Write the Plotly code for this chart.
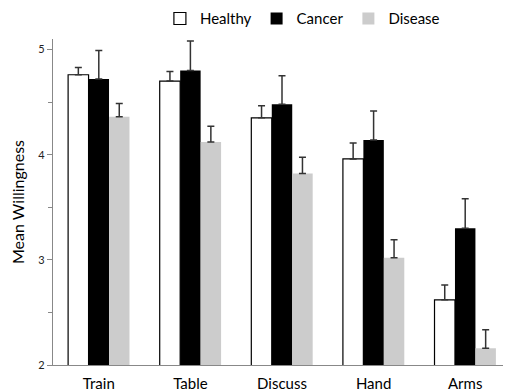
import plotly.graph_objects as go

categories = ["Train", "Table", "Discuss", "Hand", "Arms"]
healthy = [4.76, 4.70, 4.35, 3.96, 2.62]
healthy_err = [0.07, 0.09, 0.115, 0.15, 0.14]
cancer = [4.72, 4.80, 4.48, 4.14, 3.30]
cancer_err = [0.27, 0.28, 0.27, 0.275, 0.28]
disease = [4.36, 4.12, 3.82, 3.02, 2.16]
disease_err = [0.127, 0.15, 0.155, 0.17, 0.175]

font = "Lato, Open Sans, sans-serif"

def err(vals):
    return dict(type="data", array=vals, arrayminus=[0]*len(vals), symmetric=False,
                color="#333333", thickness=1.5, width=3.5)

fig = go.Figure()
fig.add_bar(name="Healthy", x=categories, y=healthy, error_y=err(healthy_err),
            marker=dict(color="white", line=dict(color="black", width=1.2)))
fig.add_bar(name="Cancer", x=categories, y=cancer, error_y=err(cancer_err),
            marker=dict(color="black", line=dict(color="black", width=0)))
fig.add_bar(name="Disease", x=categories, y=disease, error_y=err(disease_err),
            marker=dict(color="#cccccc", line=dict(color="#cccccc", width=0)))

fig.update_layout(
    width=503, height=384,
    margin=dict(l=45, r=0, t=31, b=27, autoexpand=False),
    paper_bgcolor="white", plot_bgcolor="white",
    barmode="group", bargap=0.33, bargroupgap=0,
    font=dict(family=font, color="black"),
    showlegend=True,
    legend=dict(orientation="h", x=0.302, xref="container", xanchor="left",
                y=0.972, yref="container", yanchor="middle",
                font=dict(size=15), traceorder="normal",
                itemwidth=30, tracegroupgap=0, bgcolor="rgba(0,0,0,0)"),
    xaxis=dict(showline=True, linecolor="#888888", linewidth=1.2,
               ticks="outside", ticklen=5, tickcolor="rgba(0,0,0,0)",
               tickfont=dict(size=15), showgrid=False, zeroline=False),
    yaxis=dict(range=[2, 5.1], showline=True, linecolor="#888888", linewidth=1.2,
               tickvals=[2, 3, 4, 5], ticks="outside", ticklen=5, tickcolor="#888888",
               minor=dict(tickvals=[2.5, 3.5, 4.5], ticks="outside", ticklen=4, tickcolor="#888888"),
               tickfont=dict(size=11, color="#222222"), showgrid=False, zeroline=False,
               title=dict(text="Mean Willingness", font=dict(size=16), standoff=12)),
)
fig.write_html("out.html")
